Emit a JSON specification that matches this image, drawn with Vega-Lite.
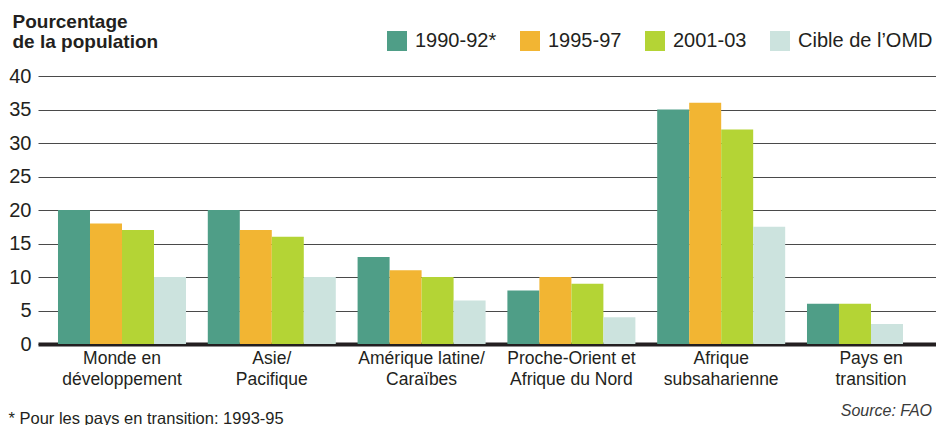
{
  "$schema": "https://vega.github.io/schema/vega-lite/v6.json",
  "autosize": {"type": "none"},
  "padding": {"left": 38, "top": 76, "right": 0, "bottom": 81},
  "width": 898,
  "height": 268,
  "background": "white",
  "title": {
    "text": "Source: FAO",
    "orient": "bottom",
    "anchor": "end",
    "frame": "group",
    "font": "Liberation Sans",
    "fontSize": 16,
    "fontStyle": "italic",
    "fontWeight": "normal",
    "color": "#3a3a3a",
    "offset": 0,
    "dx": -4,
    "dy": -24
  },
  "data": {
    "values": [
      {"region": "Monde en|développement", "series": "1990-92*", "value": 20},
      {"region": "Monde en|développement", "series": "1995-97", "value": 18},
      {"region": "Monde en|développement", "series": "2001-03", "value": 17},
      {"region": "Monde en|développement", "series": "Cible de l’OMD", "value": 10},
      {"region": "Asie/|Pacifique", "series": "1990-92*", "value": 20},
      {"region": "Asie/|Pacifique", "series": "1995-97", "value": 17},
      {"region": "Asie/|Pacifique", "series": "2001-03", "value": 16},
      {"region": "Asie/|Pacifique", "series": "Cible de l’OMD", "value": 10},
      {"region": "Amérique latine/|Caraïbes", "series": "1990-92*", "value": 13},
      {"region": "Amérique latine/|Caraïbes", "series": "1995-97", "value": 11},
      {"region": "Amérique latine/|Caraïbes", "series": "2001-03", "value": 10},
      {"region": "Amérique latine/|Caraïbes", "series": "Cible de l’OMD", "value": 6.5},
      {"region": "Proche-Orient et|Afrique du Nord", "series": "1990-92*", "value": 8},
      {"region": "Proche-Orient et|Afrique du Nord", "series": "1995-97", "value": 10},
      {"region": "Proche-Orient et|Afrique du Nord", "series": "2001-03", "value": 9},
      {"region": "Proche-Orient et|Afrique du Nord", "series": "Cible de l’OMD", "value": 4},
      {"region": "Afrique|subsaharienne", "series": "1990-92*", "value": 35},
      {"region": "Afrique|subsaharienne", "series": "1995-97", "value": 36},
      {"region": "Afrique|subsaharienne", "series": "2001-03", "value": 32},
      {"region": "Afrique|subsaharienne", "series": "Cible de l’OMD", "value": 17.5},
      {"region": "Pays en|transition", "series": "1990-92*", "value": 6},
      {"region": "Pays en|transition", "series": "2001-03", "value": 6},
      {"region": "Pays en|transition", "series": "Cible de l’OMD", "value": 3}
    ]
  },
  "transform": [
    {"window": [{"op": "row_number", "as": "slot"}], "groupby": ["region"], "sort": [{"field": "series", "order": "ascending"}]}
  ],
  "layer": [
    {
      "mark": {"type": "bar"},
      "encoding": {
        "x": {
          "field": "region",
          "type": "nominal",
          "sort": null,
          "scale": {"paddingInner": 0.1455, "paddingOuter": 0.0701, "align": 0.952},
          "axis": {
            "title": "* Pour les pays en transition: 1993-95",
            "titleFont": "Liberation Sans",
            "titleFontSize": 16.5,
            "titleFontWeight": "normal",
            "titleColor": "#231f20",
            "titleAnchor": "start",
            "titleAlign": "left",
            "titleBaseline": "top",
            "titleX": -30,
            "titleY": 66,
            "labelExpr": "split(datum.label, '|')",
            "labelAngle": 0,
            "labelFont": "Liberation Sans",
            "labelFontSize": 17.5,
            "labelLineHeight": 21,
            "labelColor": "#231f20",
            "labelPadding": 5,
            "labelBaseline": "top",
            "ticks": false,
            "domain": true,
            "domainColor": "#231f20",
            "domainWidth": 4,
            "grid": false
          }
        },
        "xOffset": {"field": "slot", "type": "ordinal", "scale": {"domain": [1, 2, 3, 4], "paddingInner": 0, "paddingOuter": 0}},
        "y": {
          "field": "value",
          "type": "quantitative",
          "scale": {"domain": [0, 40], "nice": false},
          "axis": {
            "values": [0, 5, 10, 15, 20, 25, 30, 35, 40],
            "title": ["Pourcentage", "de la population"],
            "titleFont": "Liberation Sans",
            "titleFontSize": 19,
            "titleFontWeight": "bold",
            "titleColor": "#231f20",
            "titleAngle": 0,
            "titleAlign": "left",
            "titleBaseline": "top",
            "titleLineHeight": 20,
            "titleX": -26,
            "titleY": -64,
            "labelFont": "Liberation Sans",
            "labelFontSize": 20,
            "labelColor": "#231f20",
            "labelPadding": 7,
            "ticks": false,
            "domain": false,
            "grid": true,
            "gridColor": "#4a4a4a",
            "gridWidth": 1.2
          }
        },
        "color": {
          "field": "series",
          "type": "nominal",
          "scale": {
            "domain": ["1990-92*", "1995-97", "2001-03", "Cible de l’OMD"],
            "range": ["#4f9e87", "#f2b533", "#b4d435", "#cce3de"]
          },
          "legend": {
            "title": null,
            "orient": "none",
            "direction": "horizontal",
            "legendX": 349,
            "legendY": -45,
            "symbolType": "square",
            "symbolSize": 400,
            "symbolStrokeWidth": 0,
            "symbolOpacity": 1,
            "labelFont": "Liberation Sans",
            "labelFontSize": 20,
            "labelColor": "#231f20",
            "labelOffset": 8,
            "columnPadding": 23
          }
        }
      }
    }
  ],
  "config": {
    "view": {"stroke": null},
    "font": "Liberation Sans"
  }
}
